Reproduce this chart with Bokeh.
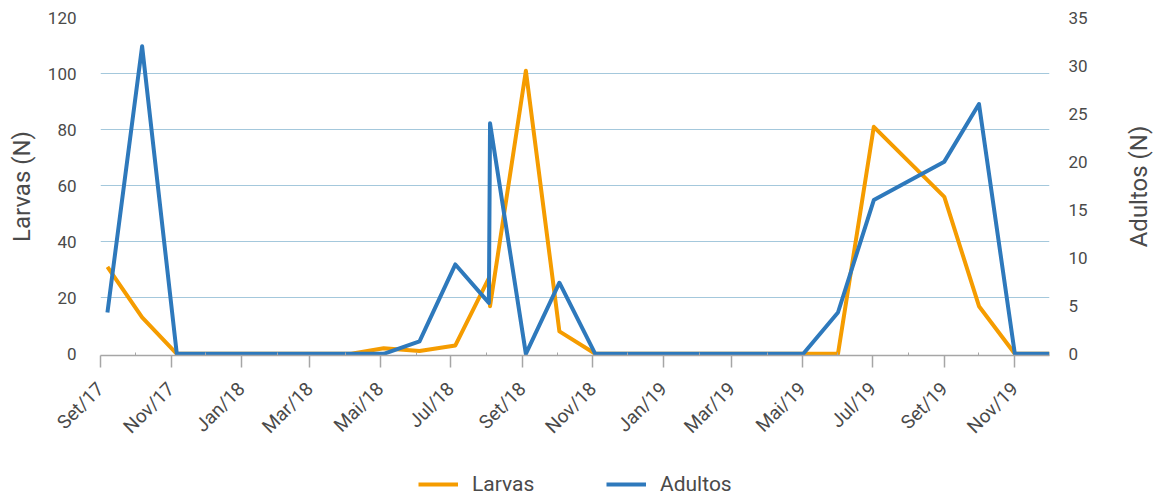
import math
import pandas as pd
from bokeh.plotting import figure
from bokeh.layouts import column, row
from bokeh.core.properties import value
from bokeh.models import ColumnDataSource, Range1d, LinearAxis, FixedTicker, Legend, LegendItem
from bokeh.embed import file_html
from bokeh.resources import INLINE

# ---- data ----
dates = ["2017-09-07", "2017-10-07", "2017-11-06", "2017-12-06", "2018-01-06", "2018-02-06",
         "2018-03-06", "2018-04-06", "2018-05-04", "2018-06-04", "2018-07-05", "2018-08-03",
         "2018-08-04", "2018-09-04", "2018-10-03", "2018-11-03", "2018-12-03", "2019-01-03",
         "2019-02-03", "2019-03-03", "2019-04-03", "2019-05-02", "2019-06-01", "2019-07-02",
         "2019-09-01", "2019-10-01", "2019-11-01", "2019-12-01"]
larvas = [31, 13, 0, 0, 0, 0, 0, 0, 2, 1, 3, 27, 17, 101, 8, 0, 0, 0, 0, 0, 0, 0, 0, 81, 56, 17, 0, 0]
adultos = [4.3, 32, 0, 0, 0, 0, 0, 0, 0, 1.3, 9.3, 5.3, 24, 0, 7.4, 0, 0, 0, 0, 0, 0, 0, 4.3, 16, 20, 26, 0, 0]

tick_dates = ["2017-09-01", "2017-11-01", "2018-01-01", "2018-03-01", "2018-05-01", "2018-07-01",
              "2018-09-01", "2018-11-01", "2019-01-01", "2019-03-01", "2019-05-01", "2019-07-01",
              "2019-09-01", "2019-11-01"]
tick_labels = ["Set/17", "Nov/17", "Jan/18", "Mar/18", "Mai/18", "Jul/18", "Set/18", "Nov/18",
               "Jan/19", "Mar/19", "Mai/19", "Jul/19", "Set/19", "Nov/19"]
minor_dates = ["2017-10-01", "2017-12-01", "2018-02-01", "2018-04-01", "2018-06-01", "2018-08-01",
               "2018-10-01", "2018-12-01", "2019-02-01", "2019-04-01", "2019-06-01", "2019-08-01",
               "2019-10-01"]
x_start, x_end = "2017-09-01", "2019-12-01"
larvas_ticks = [0, 20, 40, 60, 80, 100, 120]
adultos_ticks = [0, 5, 10, 15, 20, 25, 30, 35]
left_title = "Larvas (N)"
right_title = "Adultos (N)"

# ---- styling ----
ORANGE = "#F59C00"
BLUE = "#2E79BC"
GRID = "#A4C8DC"
AXIS = "#A6A6A6"
TEXT = "#4A4A4A"
FONT = "Roboto"


def ms(d):
    return int(pd.Timestamp(d).value // 10**6)


src = ColumnDataSource(data=dict(x=pd.to_datetime(dates), larvas=larvas, adultos=adultos))

# ---- main chart ----
p = figure(width=1120, height=465, x_axis_type="datetime",
           x_range=Range1d(ms(x_start), ms(x_end)), y_range=Range1d(-0.6, 120),
           output_backend="svg", toolbar_location=None,
           min_border_left=100, min_border_right=71, min_border_top=17, min_border_bottom=110)
p.outline_line_color = None
p.background_fill_color = "white"
p.border_fill_color = "white"
p.extra_y_ranges = {"ad": Range1d(-0.175, 35)}

line_kw = dict(line_width=4, line_join="round")
r_l = p.line("x", "larvas", source=src, line_color=ORANGE, **line_kw)
r_a = p.line("x", "adultos", source=src, y_range_name="ad", line_color=BLUE, **line_kw)

# grid
p.xgrid.visible = False
p.ygrid.ticker = FixedTicker(ticks=larvas_ticks[1:])
p.ygrid.grid_line_color = GRID
p.ygrid.grid_line_width = 1

# x axis
xa = p.xaxis[0]
xa.ticker = FixedTicker(ticks=[ms(d) for d in tick_dates], minor_ticks=[ms(d) for d in minor_dates])
xa.major_label_overrides = {ms(d): lab for d, lab in zip(tick_dates, tick_labels)}
xa.major_label_orientation = math.pi / 4
xa.axis_line_color = AXIS
xa.axis_line_width = 1.5
xa.major_tick_line_color = AXIS
xa.major_tick_line_width = 1.5
xa.major_tick_out = 12
xa.major_tick_in = 0
xa.minor_tick_line_color = AXIS
xa.minor_tick_in = 3
xa.minor_tick_out = 0
xa.major_label_standoff = 18
xa.major_label_text_font = FONT
xa.major_label_text_font_size = "19px"
xa.major_label_text_color = TEXT

# left axis
ya = p.yaxis[0]
ya.ticker = FixedTicker(ticks=larvas_ticks)
ya.axis_line_color = None
ya.major_tick_line_color = None
ya.major_tick_out = 0
ya.major_tick_in = 0
ya.minor_tick_line_color = None
ya.minor_tick_out = 0
ya.minor_tick_in = 0
ya.major_label_standoff = 24
ya.major_label_text_font = FONT
ya.major_label_text_font_size = "17px"
ya.major_label_text_color = TEXT
ya.axis_label = left_title
ya.axis_label_text_font = FONT
ya.axis_label_text_font_size = "24px"
ya.axis_label_text_font_style = "normal"
ya.axis_label_text_color = TEXT
ya.axis_label_standoff = 9

# right axis (tick labels only; its title is drawn in the narrow strip at the right)
yr = LinearAxis(y_range_name="ad", ticker=FixedTicker(ticks=adultos_ticks))
yr.axis_line_color = None
yr.major_tick_line_color = None
yr.major_tick_out = 0
yr.major_tick_in = 0
yr.minor_tick_line_color = None
yr.minor_tick_out = 0
yr.minor_tick_in = 0
yr.major_label_standoff = 19
yr.major_label_text_font = FONT
yr.major_label_text_font_size = "17px"
yr.major_label_text_color = TEXT
p.add_layout(yr, "right")

# ---- right title strip (reads bottom-to-top like the left title) ----
t = figure(width=37, height=465, output_backend="svg", toolbar_location=None,
           x_axis_location=None, y_axis_location=None,
           min_border_left=0, min_border_right=0, min_border_top=17, min_border_bottom=110,
           x_range=Range1d(0, 1), y_range=Range1d(0, 1))
t.outline_line_color = None
t.grid.visible = False
t.text(x=[0.5], y=[0.5], text=[right_title], angle=math.pi / 2,
       text_align="center", text_baseline="middle", text_font=value(FONT),
       text_font_size="24px", text_color=TEXT)

# ---- legend strip below the chart ----
leg = figure(width=1157, height=32, output_backend="svg", toolbar_location=None,
             x_axis_location=None, y_axis_location=None,
             min_border_left=100, min_border_right=108, min_border_top=0, min_border_bottom=0,
             x_range=Range1d(ms(x_start), ms(x_end)), y_range=Range1d(0, 1))
leg.outline_line_color = None
leg.grid.visible = False
lr_l = leg.line("x", "larvas", source=src, line_color=ORANGE, visible=False, **line_kw)
lr_a = leg.line("x", "adultos", source=src, line_color=BLUE, visible=False, **line_kw)
legend = Legend(items=[LegendItem(label="Larvas", renderers=[lr_l]),
                       LegendItem(label="Adultos", renderers=[lr_a])],
                location=(318, 1), orientation="horizontal",
                glyph_width=40, glyph_height=20, label_standoff=14, label_width=120,
                spacing=14, padding=0, margin=0, border_line_color=None,
                background_fill_alpha=0, inactive_fill_alpha=0,
                label_text_font=FONT, label_text_font_size="21px",
                label_text_color=TEXT)
leg.add_layout(legend)

layout = column(row(p, t, spacing=0), leg, spacing=0)
open("out.html", "w").write(file_html(layout, INLINE))
